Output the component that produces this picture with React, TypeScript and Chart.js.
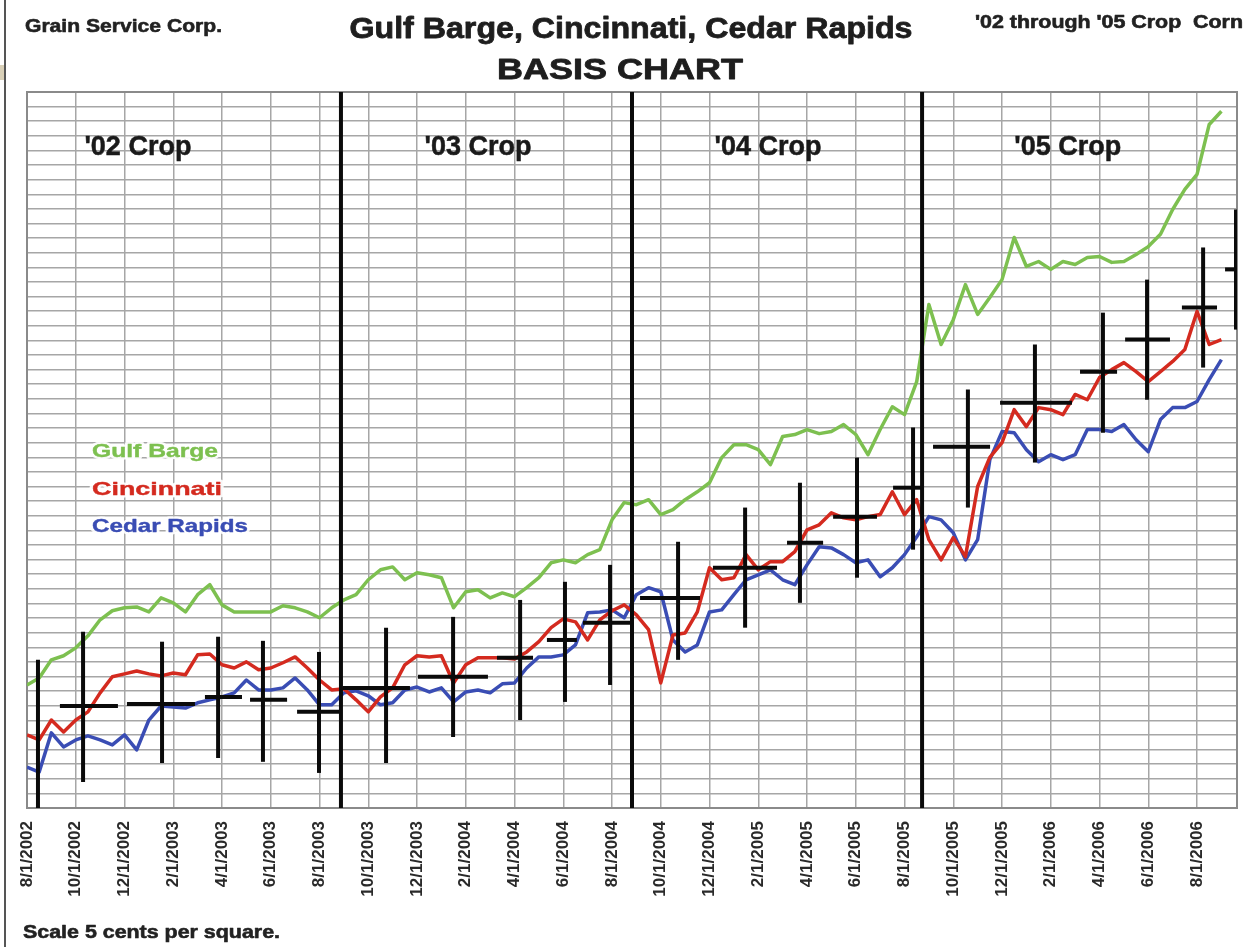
import React, { useEffect, useRef } from "react";
import { Chart, registerables } from "chart.js";

Chart.register(...registerables);

// ---- DATA (cents; grid = 5 cents per square; x = months since 8/1/2002) ----
const tickLabels = [
  "8/1/2002", "10/1/2002", "12/1/2002", "2/1/2003", "4/1/2003", "6/1/2003",
  "8/1/2003", "10/1/2003", "12/1/2003", "2/1/2004", "4/1/2004", "6/1/2004",
  "8/1/2004", "10/1/2004", "12/1/2004", "2/1/2005", "4/1/2005", "6/1/2005",
  "8/1/2005", "10/1/2005", "12/1/2005", "2/1/2006", "4/1/2006", "6/1/2006",
  "8/1/2006",
];

const gulfBarge = [
  42.1, 44.5, 50.7, 52.1, 54.8, 58.9, 64.4, 67.5, 68.5, 68.8,
  67.1, 71.9, 70.2, 67.1, 73.0, 76.4, 69.5, 67.1, 67.1, 67.1,
  67.1, 69.2, 68.5, 67.1, 65.1, 68.5, 71.2, 73.0, 78.1, 81.5,
  82.5, 78.1, 80.5, 79.8, 78.8, 68.5, 74.0, 74.7, 71.9, 73.6,
  72.3, 75.4, 78.8, 83.9, 84.9, 83.9, 86.7, 88.4, 98.6, 104.5,
  103.8, 105.5, 100.4, 102.1, 105.5, 108.2, 111.3, 119.9, 124.3, 124.3,
  122.6, 117.5, 127.1, 127.8, 129.5, 128.1, 128.8, 131.2, 127.8, 120.9,
  129.5, 137.3, 134.6, 145.9, 172.3, 158.6, 167.1, 179.1, 168.9, 174.7,
  180.8, 195.2, 185.3, 187.0, 184.3, 187.0, 186.0, 188.4, 188.7, 186.7,
  187.0, 189.4, 192.1, 196.3, 204.8, 211.7, 216.8, 233.9, 238.4,
];

const cincinnati = [
  25.0, 23.3, 30.1, 26.0, 30.1, 32.9, 39.4, 44.9, 45.9, 46.9,
  45.9, 45.2, 46.2, 45.6, 52.4, 52.7, 49.0, 47.9, 50.0, 47.3,
  47.9, 49.7, 51.7, 47.9, 43.8, 40.4, 40.8, 37.0, 32.9, 38.0,
  41.1, 49.0, 52.1, 51.7, 52.1, 42.8, 49.0, 51.4, 51.4, 51.4,
  51.0, 53.4, 56.9, 61.7, 64.7, 63.7, 57.5, 64.4, 67.5, 69.5,
  66.1, 61.0, 42.8, 59.2, 59.9, 67.1, 82.2, 78.1, 78.8, 86.7,
  81.5, 84.3, 84.3, 87.7, 95.2, 96.9, 101.0, 99.3, 98.6, 99.7,
  100.4, 108.2, 100.4, 105.5, 91.8, 84.9, 92.5, 86.0, 110.0, 120.0,
  125.0, 136.3, 130.5, 137.0, 136.3, 134.6, 141.5, 139.7, 147.3, 150.0,
  152.4, 149.3, 145.9, 149.3, 152.8, 156.9, 169.9, 158.6, 160.3,
];

const cedarRapids = [
  14.0, 12.3, 25.7, 20.9, 23.3, 24.7, 23.3, 21.6, 25.0, 19.9,
  30.1, 34.9, 34.6, 34.2, 36.0, 37.0, 38.0, 39.4, 43.8, 40.4,
  40.4, 41.1, 44.5, 40.4, 35.3, 35.3, 39.4, 40.1, 38.4, 35.3,
  36.0, 40.4, 41.4, 39.7, 41.1, 36.3, 39.7, 40.4, 39.4, 42.5,
  42.8, 47.9, 51.7, 51.7, 52.4, 55.8, 66.8, 67.1, 67.8, 65.1,
  73.0, 75.4, 74.0, 57.5, 53.4, 55.8, 67.1, 67.8, 73.0, 78.1,
  79.8, 81.5, 78.1, 76.4, 83.2, 89.4, 89.0, 86.7, 83.9, 84.9,
  79.1, 82.2, 86.7, 92.8, 99.7, 98.6, 94.2, 84.9, 91.8, 119.2,
  128.8, 128.4, 122.6, 118.5, 120.9, 119.2, 120.9, 129.5, 129.5, 128.8,
  131.2, 126.0, 121.9, 132.9, 137.0, 137.0, 139.1, 146.6, 153.4,
];

// futures-period markers: centre month, period start/end, average, low, high
const crossMid = [0.45, 2.3, 5.54, 7.84, 9.68, 11.98, 14.73, 17.48, 20.23, 22.07, 23.92, 26.71, 29.46, 31.71, 34.05, 36.35, 38.6, 41.35, 44.14, 45.95, 48.25, 49.6];
const crossStart = [null, 1.35, 4.1, 7.3, 9.15, 11.08, 12.96, 16.04, 19.28, 21.33, 22.81, 25.15, 28.14, 31.18, 33.07, 35.53, 37.17, 39.92, 43.2, 45.05, 47.38, 49.15];
const crossEnd = [null, 3.73, 6.89, 8.82, 10.67, 12.84, 15.71, 18.91, 20.76, 22.56, 24.74, 27.61, 30.77, 32.66, 34.87, 36.76, 39.51, 42.87, 44.72, 46.89, 48.82, 49.64];
const crossAvg = [null, 34.9, 35.6, 38.0, 37.0, 32.9, 41.1, 44.9, 51.4, 57.5, 63.4, 71.9, 82.2, 90.8, 99.7, 109.6, 123.6, 138.7, 149.3, 160.3, 171.3, 184.3];
const crossLow = [0, 8.9, 15.4, 17.1, 15.8, 12.0, 15.4, 24.3, 30.1, 36.3, 42.1, 50.7, 61.7, 70.2, 78.8, 88.4, 102.8, 118.2, 128.4, 139.7, 150.7, 163.7];
const crossHigh = [50.7, 60.3, 56.9, 58.6, 57.2, 53.4, 61.7, 65.4, 71.2, 77.4, 83.2, 91.1, 102.8, 111.3, 119.9, 130.2, 143.2, 158.6, 169.5, 180.8, 191.8, 204.8];

// crop-year boundaries and labels
const cropBoundaries = [12.88, 24.82, 36.72];
const cropLabels = ["'02 Crop", "'03 Crop", "'04 Crop", "'05 Crop"];
const cropLabelMonths = [4.55, 18.5, 30.4, 42.7];

const X_MAX = 49.64;
const Y_MAX = 245;

const seriesDefs = [
  { label: "Gulf Barge", data: gulfBarge, color: "#7dc050" },
  { label: "Cincinnati", data: cincinnati, color: "#d42a1f" },
  { label: "Cedar Rapids", data: cedarRapids, color: "#3a4db4" },
];

const FONT = '"Liberation Sans", Arial, Helvetica, sans-serif';

function drawFit(ctx: CanvasRenderingContext2D, text: string, x: number, y: number, size: number, width: number, align: CanvasTextAlign, color: string, halo = false, heavy = 0) {
  ctx.save();
  ctx.font = `bold ${size}px ${FONT}`;
  const w = ctx.measureText(text).width;
  const s = width / w;
  ctx.translate(x, y);
  ctx.scale(s, 1);
  ctx.textAlign = align;
  ctx.textBaseline = "alphabetic";
  if (halo) {
    ctx.strokeStyle = "rgba(255,255,255,0.9)";
    ctx.lineWidth = 5;
    ctx.lineJoin = "round";
    ctx.strokeText(text, 0, 0);
  }
  ctx.fillStyle = color;
  ctx.fillText(text, 0, 0);
  if (heavy > 0) {
    ctx.strokeStyle = color;
    ctx.lineWidth = heavy;
    ctx.lineJoin = "round";
    ctx.strokeText(text, 0, 0);
  }
  ctx.restore();
}

const decorPlugin = {
  id: "decor",
  beforeDraw(chart: any) {
    const ctx = chart.ctx as CanvasRenderingContext2D;
    ctx.save();
    ctx.fillStyle = "#ffffff";
    ctx.fillRect(0, 0, chart.width, chart.height);
    ctx.fillStyle = "#d9d0b8";
    ctx.fillRect(0, 65, 4, 15);
    ctx.strokeStyle = "#555";
    ctx.lineWidth = 2;
    ctx.beginPath();
    ctx.moveTo(5, 0);
    ctx.lineTo(5, chart.height);
    ctx.stroke();
    ctx.restore();
  },
  beforeDatasetsDraw(chart: any) {
    const ctx = chart.ctx as CanvasRenderingContext2D;
    const a = chart.chartArea;
    ctx.save();
    ctx.strokeStyle = "#8a8a8a";
    ctx.lineWidth = 2;
    ctx.strokeRect(a.left, a.top, a.right - a.left, a.bottom - a.top);
    ctx.restore();
  },
  afterDraw(chart: any) {
    const ctx = chart.ctx as CanvasRenderingContext2D;
    const a = chart.chartArea;
    const xs = chart.scales.x;
    drawFit(ctx, "Grain Service Corp.", 25, 32, 19, 197, "left", "#222", false, 0.6);
    drawFit(ctx, "Gulf Barge, Cincinnati, Cedar Rapids", 631, 38, 29, 563, "center", "#1e1e1e", false, 0.8);
    drawFit(ctx, "BASIS CHART", 620, 79, 29, 246, "center", "#1e1e1e", false, 0.8);
    drawFit(ctx, "'02 through '05 Crop  Corn", 1243, 28, 18, 268, "right", "#222", false, 0.6);
    drawFit(ctx, "Scale 5 cents per square.", 23, 938, 19, 257, "left", "#222", false, 0.6);
    cropLabels.forEach((t, i) => {
      const x = xs.getPixelForValue(cropLabelMonths[i]);
      ctx.save();
      ctx.font = `bold 27px ${FONT}`;
      ctx.textAlign = "center";
      ctx.fillStyle = "#1a1a1a";
      ctx.fillText(t, x, a.top + 63);
      ctx.strokeStyle = "#1a1a1a";
      ctx.lineWidth = 0.5;
      ctx.strokeText(t, x, a.top + 63);
      ctx.restore();
    });
    const legendW = [126, 130, 156];
    seriesDefs.forEach((s, i) => {
      drawFit(ctx, s.label, a.left + 65, a.top + 365 + i * 37.5, 19, legendW[i], "left", s.color, true, 0.4);
    });
  },
};

export default function App() {
  const ref = useRef<HTMLCanvasElement>(null);
  useEffect(() => {
    if (!ref.current) return;
    const obsMonths = gulfBarge.map((_, i) => i / 2);
    const datasets: any[] = [];
    cropBoundaries.forEach((b) => {
      datasets.push({
        data: [{ x: b, y: 0 }, { x: b, y: Y_MAX }],
        borderColor: "#0a0a0a",
        borderWidth: 4,
        pointRadius: 0,
        order: 0,
      });
    });
    crossMid.forEach((m, i) => {
      datasets.push({
        data: [{ x: m, y: crossLow[i] }, { x: m, y: crossHigh[i] }],
        borderColor: "#0a0a0a",
        borderWidth: 4,
        pointRadius: 0,
        order: 1,
      });
      if (crossAvg[i] !== null) {
        datasets.push({
          data: [{ x: crossStart[i], y: crossAvg[i] }, { x: crossEnd[i], y: crossAvg[i] }],
          borderColor: "#0a0a0a",
          borderWidth: 4,
          pointRadius: 0,
          order: 1,
        });
      }
    });
    seriesDefs.forEach((s, idx) => {
      datasets.push({
        label: s.label,
        data: s.data.map((v, i) => ({ x: obsMonths[i], y: v })),
        borderColor: s.color,
        borderWidth: 3.5,
        pointRadius: 0,
        tension: 0,
        order: 2 + (idx === 1 ? 0 : idx === 0 ? 1 : 2),
      });
    });

    const tickMonths = tickLabels.map((_, i) => i * 2);

    const chart = new Chart(ref.current, {
      type: "line",
      data: { datasets },
      plugins: [decorPlugin],
      options: {
        animation: false,
        responsive: false,
        devicePixelRatio: 1,
        layout: { padding: { left: 27, top: 92, right: 12, bottom: 0 } },
        plugins: { legend: { display: false }, tooltip: { enabled: false }, title: { display: false } },
        elements: { line: { borderCapStyle: "butt", borderJoinStyle: "round" } },
        scales: {
          x: {
            type: "linear",
            min: 0,
            max: X_MAX,
            afterBuildTicks: (scale: any) => {
              scale.ticks = tickMonths.map((v) => ({ value: v }));
            },
            afterFit: (scale: any) => {
              scale.height = 139;
            },
            grid: { color: "#a6a6a6", lineWidth: 1.5, drawTicks: false },
            border: { display: true, color: "#8a8a8a", width: 2 },
            ticks: {
              autoSkip: false,
              minRotation: 90,
              maxRotation: 90,
              padding: 13,
              color: "#2a2a2a",
              font: { family: FONT, size: 17, weight: "bold" },
              callback: (_v: any, index: number) => tickLabels[index],
            },
          },
          y: {
            type: "linear",
            min: 0,
            max: Y_MAX,
            afterBuildTicks: (scale: any) => {
              const t = [];
              for (let v = 0; v <= Y_MAX; v += 5) t.push({ value: v });
              scale.ticks = t;
            },
            afterFit: (scale: any) => {
              scale.width = 0;
            },
            grid: { color: "#a6a6a6", lineWidth: 1.5, drawTicks: false },
            border: { display: true, color: "#8a8a8a", width: 2 },
            ticks: { display: false },
          },
        },
      } as any,
    });
    return () => chart.destroy();
  }, []);
  return (
    <div style={{ position: "absolute", left: 0, top: 0, width: 1249, height: 947, background: "#fff" }}>
      <canvas ref={ref} width={1249} height={947} style={{ display: "block", width: 1249, height: 947 }} />
    </div>
  );
}
